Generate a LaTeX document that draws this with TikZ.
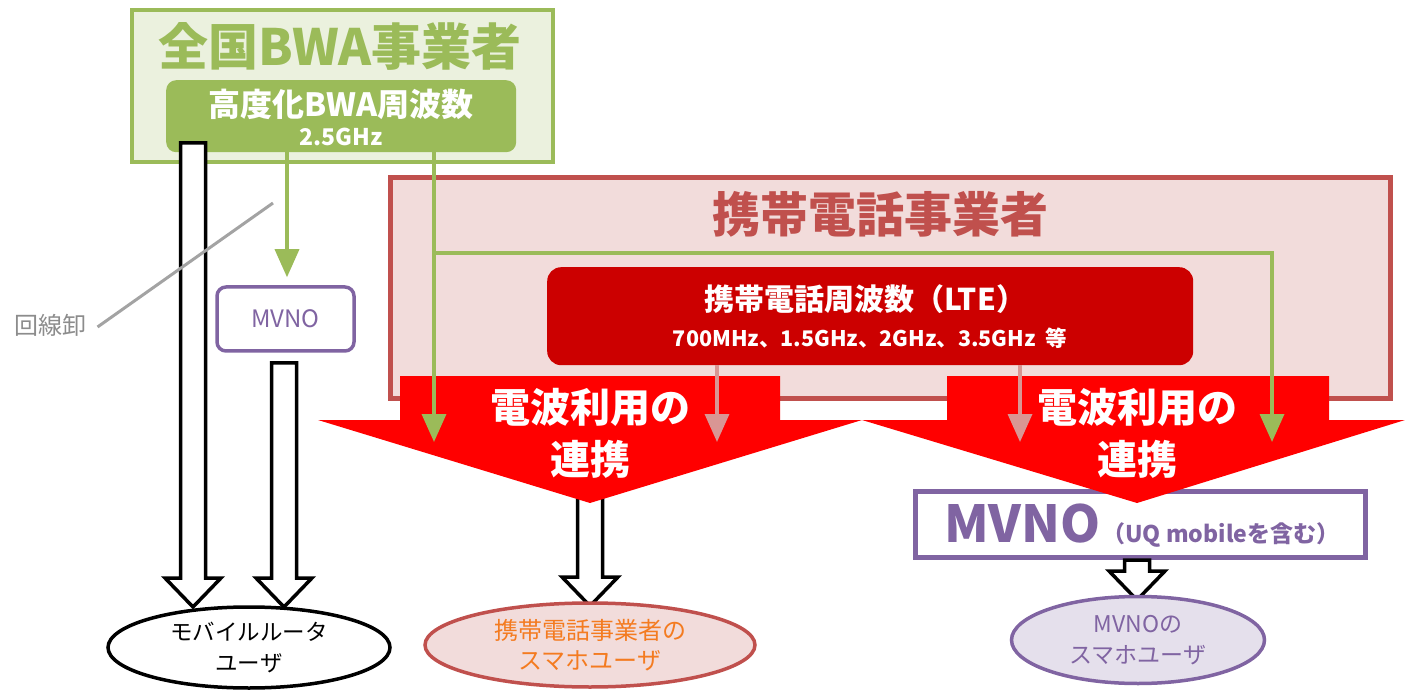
\documentclass[tikz,border=0pt]{standalone}
\usepackage{fontspec}
\setmainfont{Noto Sans CJK JP}
\usetikzlibrary{arrows.meta,shapes.geometric,calc}
\definecolor{bwagreen}{HTML}{9BBB59}
\definecolor{bwalight}{HTML}{EBF1DE}
\definecolor{redline}{HTML}{C0504D}
\definecolor{redfill}{HTML}{F2DCDB}
\definecolor{darkred}{HTML}{CC0000}
\definecolor{brightred}{HTML}{FF0000}
\definecolor{pinkarrow}{HTML}{D99694}
\definecolor{mvpurple}{HTML}{8064A2}
\definecolor{lavender}{HTML}{E5E0EC}
\definecolor{orangetxt}{HTML}{F47B20}
\definecolor{graytxt}{HTML}{8C8C8C}
\newcommand{\fs}[1]{\fontsize{#1}{#1}\selectfont}
\newcommand{\hollowdown}[3]{%
  \draw[hollow] (#1-12.5,#2) -- (#1-12.5,#3-29) -- (#1-28,#3-29) -- (#1,#3) -- (#1+28,#3-29) -- (#1+12.5,#3-29) -- (#1+12.5,#2) -- cycle;}
\newcommand{\redblock}[5]{% rect left, rect right, wing left, wing right, tip x
  \fill[brightred] (#1,376) -- (#2,376) -- (#2,420) -- (#4,420) -- (#5,503) -- (#3,420) -- (#1,420) -- cycle;}
\tikzset{
  hollow/.style={draw=black, line width=3.5pt, fill=white, line join=miter},
  greenarr/.style={draw=bwagreen, line width=3.5pt, -{Triangle[length=28pt,width=24pt]}},
  pinkarr/.style={draw=pinkarrow, line width=3.5pt, -{Triangle[length=28pt,width=24pt]}},
  boxbase/.style={anchor=north west, inner sep=0pt},
  ell/.style={ellipse, line width=3.5pt, align=center, inner sep=0pt},
}
\begin{document}
\begin{tikzpicture}[x=1pt,y=-1pt]
\useasboundingbox (0,0) rectangle (1405,692);
% ---- BWA operator
\node[boxbase, draw=bwagreen, line width=4pt, fill=bwalight, minimum width=421, minimum height=152] (bwabox) at (130,8) {};
\node[text=bwagreen, font=\bfseries\fs{50}] (bwatitle) at (340,46) {全国BWA事業者};
\node[boxbase, fill=bwagreen, rounded corners=10, minimum width=350, minimum height=72] (bwafreq) at (166,80) {};
\node[text=white, font=\bfseries\fs{32}] (bwafreqt) at (341,104) {高度化BWA周波数};
\node[text=white, font=\bfseries\fs{23}] (bwaghz) at (341,137) {2.5GHz};
% ---- small MVNO
\node[draw=mvpurple, line width=3.5pt, fill=white, rounded corners=9, minimum width=137, minimum height=64, text=mvpurple, font=\fs{24}] (mvnosmall) at (285.5,319) {MVNO};
\draw[greenarr, shorten >=8pt] (287,152) -- (mvnosmall.north -| 287,0);
% ---- hollow arrows left
\hollowdown{193}{143}{607}
\hollowdown{284}{363}{607}
\node[ell, draw=black, fill=white, minimum width=282, minimum height=81, font=\fs{22.5}] (router) at (249,647.5) {モバイルルータ\\[8pt]ユーザ};
% ---- mobile operator
\node[boxbase, draw=redline, line width=5pt, fill=redfill, minimum width=1000, minimum height=221] (mnobox) at (388,175) {};
\node[text=redline, font=\bfseries\fs{48}] (mnotitle) at (880,214) {携帯電話事業者};
\node[boxbase, fill=darkred, rounded corners=14, minimum width=646, minimum height=98] (lte) at (547,267) {};
\node[text=white, font=\bfseries\fs{30}] (ltet) at (865,299) {携帯電話周波数（LTE）};
\node[text=white, font=\bfseries\fs{21.5}] (ltef) at (870,338) {700MHz、1.5GHz、2GHz、3.5GHz\ \ 等};
% ---- lower hollow arrows and targets
\hollowdown{590}{495}{606}
\node[boxbase, draw=mvpurple, line width=4.5pt, fill=white, minimum width=450, minimum height=66] (mvnobig) at (913,489) {};
\node[anchor=base west, inner sep=0pt, text=mvpurple, font=\bfseries] (mvnobigt) at (944,542) {{\fs{51}MVNO}\,{\fs{23}（UQ mobileを含む）}};
\hollowdown{1137}{560}{600}
\node[ell, draw=redline, fill=redfill, minimum width=330, minimum height=84, text=orangetxt, font=\fs{24}] (mnouser) at (590,645) {携帯電話事業者の\\[6pt]スマホユーザ};
\node[ell, draw=mvpurple, fill=lavender, minimum width=253, minimum height=87, text=mvpurple, font=\fs{23}] (mvnouser) at (1138,640) {MVNOの\\[8pt]スマホユーザ};
% ---- red block arrows
\redblock{400}{780}{318}{862}{590}
\redblock{947}{1329}{862}{1405}{1137}
\node[text=white, font=\bfseries\fs{40}] (coop1a) at (590,407) {電波利用の};
\node[text=white, font=\bfseries\fs{40}] (coop1b) at (590,459) {連携};
\node[text=white, font=\bfseries\fs{40}] (coop2a) at (1137,407) {電波利用の};
\node[text=white, font=\bfseries\fs{40}] (coop2b) at (1137,459) {連携};
% ---- pink arrows
\coordinate (p1e) at (717,442);
\coordinate (p2e) at (1020,442);
\draw[pinkarr] (lte.south -| p1e) -- (p1e);
\draw[pinkarr] (lte.south -| p2e) -- (p2e);
% ---- green lines
\coordinate (g1) at (434,152);
\coordinate (gj) at (434,253);
\coordinate (gr) at (1272,253);
\coordinate (g1e) at (434,442);
\coordinate (g2e) at (1272,442);
\draw[greenarr] (g1) -- (g1e);
\draw[greenarr] (gj) -- (gr) -- (g2e);
% ---- line wholesale label
\node[text=graytxt, font=\fs{24}] (kaisen) at (50,325) {回線卸};
\draw[draw=graytxt!80, line width=3pt] (kaisen.east) ++(8,2) -- (273,203);
\end{tikzpicture}
\end{document}
